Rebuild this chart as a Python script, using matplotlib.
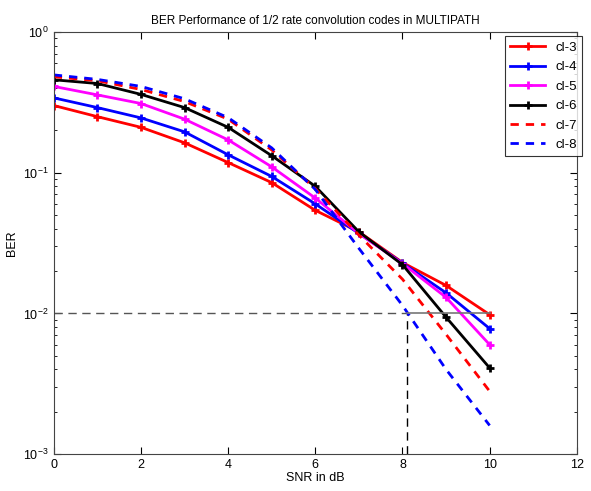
import matplotlib
matplotlib.use('Agg')
import matplotlib.pyplot as plt

plt.rcParams['font.family'] = ['Liberation Sans', 'DejaVu Sans']

snr = [0, 1, 2, 3, 4, 5, 6, 7, 8, 9, 10]
labels = ['cl-3', 'cl-4', 'cl-5', 'cl-6', 'cl-7', 'cl-8']

cl3 = [0.30, 0.25, 0.21, 0.163, 0.118, 0.085, 0.054, 0.038, 0.023, 0.0158, 0.0098]
cl4 = [0.34, 0.29, 0.245, 0.195, 0.134, 0.094, 0.060, 0.037, 0.0228, 0.014, 0.0078]
cl5 = [0.41, 0.357, 0.31, 0.24, 0.171, 0.110, 0.066, 0.037, 0.0226, 0.013, 0.0060]
cl6 = [0.457, 0.43, 0.36, 0.29, 0.21, 0.132, 0.080, 0.038, 0.0222, 0.0094, 0.0041]
cl7 = [0.48, 0.45, 0.39, 0.32, 0.24, 0.145, 0.077, 0.036, 0.0175, 0.0071, 0.0028]
cl8 = [0.495, 0.46, 0.41, 0.335, 0.246, 0.150, 0.076, 0.029, 0.0114, 0.0040, 0.0016]

ref_ber = 0.01
ref_snr = 8.1

fig = plt.figure(figsize=(5.91, 4.91), dpi=100)
ax = fig.add_axes([0.091, 0.075, 0.885, 0.86])

# reference lines at BER = 1e-2
ax.plot([0, ref_snr], [ref_ber, ref_ber], color='#555555', ls=(0, (6, 4)), lw=1)
ax.plot([ref_snr, 10], [ref_ber, ref_ber], color='#777777', ls='-', lw=1.2, zorder=5)
ax.plot([ref_snr, ref_snr], [1e-3, ref_ber], color='black', ls=(0, (6, 4)), lw=1)

mk = dict(marker='+', markersize=6, markeredgewidth=2, lw=2)
ax.plot(snr, cl3, color='red', label=labels[0], **mk)
ax.plot(snr, cl4, color='blue', label=labels[1], **mk)
ax.plot(snr, cl5, color='magenta', label=labels[2], **mk)
ax.plot(snr, cl6, color='black', label=labels[3], **mk)
ax.plot(snr, cl7, color='red', ls=(0, (3, 2.5)), lw=2, label=labels[4])
ax.plot(snr, cl8, color='blue', ls=(0, (3, 2.5)), lw=2, label=labels[5])

ax.set_yscale('log')
ax.set_xlim(0, 12)
ax.set_ylim(1e-3, 1)
ax.set_xticks([0, 2, 4, 6, 8, 10, 12])
ax.tick_params(which='both', direction='in', top=True, right=True, labelsize=9)
ax.tick_params(which='major', length=5)
ax.tick_params(which='minor', length=2.5)
for s in ax.spines.values():
    s.set_color('#444444')

ax.set_title('BER Performance of 1/2 rate convolution codes in MULTIPATH', fontsize=8.5)
ax.set_xlabel('SNR in dB', fontsize=9, labelpad=1)
ax.set_ylabel('BER', fontsize=9)

leg = ax.legend(loc='upper right', bbox_to_anchor=(1.01, 0.99), fontsize=9.5,
                fancybox=False, edgecolor='black', handlelength=2.6,
                borderaxespad=0.0, labelspacing=0.55)
leg.get_frame().set_linewidth(0.8)

fig.savefig('out.png', dpi=100)
